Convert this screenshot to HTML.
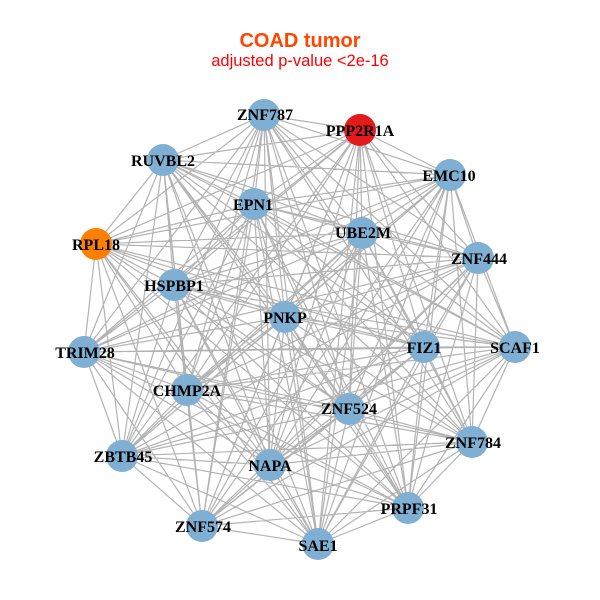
<!DOCTYPE html>
<html><head><meta charset="utf-8"><style>
html,body{margin:0;padding:0;background:#fff}
svg{display:block}
.l{font:bold 16px "Liberation Serif",serif;fill:#000;text-anchor:middle}
</style></head><body>
<svg width="600" height="600" viewBox="0 0 600 600" xmlns="http://www.w3.org/2000/svg">
<rect width="600" height="600" fill="#fff"/>
<path fill="none" stroke="#b3b3b3" stroke-width="1.2" d="
M264 115L163 160M264 115L254 204M264 115L96 244M264 115L174 285M264 115L360 130M264 115L450 175M264 115L362 233M264 115L478 258M264 115L285 317M264 115L84 352M264 115L187 390M264 115L122 456M264 115L270 465M264 115L202 526M264 115L424 347M264 115L515 347M264 115L349 409M264 115L472 442M264 115L408 508M264 115L318 544
M163 160L254 204M163 160L96 244M163 160L174 285M163 160L360 130M163 160L450 175M163 160L362 233M163 160L478 258M163 160L285 317M163 160L84 352M163 160L187 390M163 160L122 456M163 160L270 465M163 160L202 526M163 160L424 347M163 160L515 347M163 160L349 409M163 160L472 442M163 160L408 508M163 160L318 544
M254 204L96 244M254 204L174 285M254 204L360 130M254 204L450 175M254 204L362 233M254 204L478 258M254 204L285 317M254 204L84 352M254 204L187 390M254 204L122 456M254 204L270 465M254 204L202 526M254 204L424 347M254 204L515 347M254 204L349 409M254 204L472 442M254 204L408 508M254 204L318 544
M96 244L174 285M96 244L360 130M96 244L450 175M96 244L362 233M96 244L478 258M96 244L285 317M96 244L84 352M96 244L187 390M96 244L122 456M96 244L270 465M96 244L202 526M96 244L424 347M96 244L515 347M96 244L349 409M96 244L472 442M96 244L408 508M96 244L318 544
M174 285L360 130M174 285L450 175M174 285L362 233M174 285L478 258M174 285L285 317M174 285L84 352M174 285L187 390M174 285L122 456M174 285L270 465M174 285L202 526M174 285L424 347M174 285L515 347M174 285L349 409M174 285L472 442M174 285L408 508M174 285L318 544
M360 130L450 175M360 130L362 233M360 130L478 258M360 130L285 317M360 130L84 352M360 130L187 390M360 130L122 456M360 130L270 465M360 130L202 526M360 130L424 347M360 130L515 347M360 130L349 409M360 130L472 442M360 130L408 508M360 130L318 544
M450 175L362 233M450 175L478 258M450 175L285 317M450 175L84 352M450 175L187 390M450 175L122 456M450 175L270 465M450 175L202 526M450 175L424 347M450 175L515 347M450 175L349 409M450 175L472 442M450 175L408 508M450 175L318 544
M362 233L478 258M362 233L285 317M362 233L84 352M362 233L187 390M362 233L122 456M362 233L270 465M362 233L202 526M362 233L424 347M362 233L515 347M362 233L349 409M362 233L472 442M362 233L408 508M362 233L318 544
M478 258L285 317M478 258L84 352M478 258L187 390M478 258L122 456M478 258L270 465M478 258L202 526M478 258L424 347M478 258L515 347M478 258L349 409M478 258L472 442M478 258L408 508M478 258L318 544
M285 317L84 352M285 317L187 390M285 317L122 456M285 317L270 465M285 317L202 526M285 317L424 347M285 317L515 347M285 317L349 409M285 317L472 442M285 317L408 508M285 317L318 544
M84 352L187 390M84 352L122 456M84 352L270 465M84 352L202 526M84 352L424 347M84 352L515 347M84 352L349 409M84 352L472 442M84 352L408 508M84 352L318 544
M187 390L122 456M187 390L270 465M187 390L202 526M187 390L424 347M187 390L515 347M187 390L349 409M187 390L472 442M187 390L408 508M187 390L318 544
M122 456L270 465M122 456L202 526M122 456L424 347M122 456L515 347M122 456L349 409M122 456L472 442M122 456L408 508M122 456L318 544
M270 465L202 526M270 465L424 347M270 465L515 347M270 465L349 409M270 465L472 442M270 465L408 508M270 465L318 544
M202 526L424 347M202 526L515 347M202 526L349 409M202 526L472 442M202 526L408 508M202 526L318 544
M424 347L515 347M424 347L349 409M424 347L472 442M424 347L408 508M424 347L318 544
M515 347L349 409M515 347L472 442M515 347L408 508M515 347L318 544
M349 409L472 442M349 409L408 508M349 409L318 544
M472 442L408 508M472 442L318 544
M408 508L318 544"/>
<g fill="#7fafd2">
<circle cx="264" cy="115" r="16"/><circle cx="163" cy="160" r="16"/><circle cx="254" cy="204" r="16"/><circle cx="174" cy="285" r="16"/><circle cx="450" cy="175" r="16"/><circle cx="362" cy="233" r="16"/><circle cx="478" cy="258" r="16"/><circle cx="285" cy="317" r="16"/><circle cx="84" cy="352" r="16"/><circle cx="187" cy="390" r="16"/><circle cx="122" cy="456" r="16"/><circle cx="270" cy="465" r="16"/><circle cx="202" cy="526" r="16"/><circle cx="424" cy="347" r="16"/><circle cx="515" cy="347" r="16"/><circle cx="349" cy="409" r="16"/><circle cx="472" cy="442" r="16"/><circle cx="408" cy="508" r="16"/><circle cx="318" cy="544" r="16"/>
</g>
<circle cx="96" cy="244" r="16" fill="#ff7f00"/>
<circle cx="360" cy="130" r="16" fill="#e41a1c"/>
<text class="l" x="265" y="120">ZNF787</text>
<text class="l" x="163" y="166">RUVBL2</text>
<text class="l" x="253" y="210">EPN1</text>
<text class="l" x="96" y="250">RPL18</text>
<text class="l" x="174" y="291">HSPBP1</text>
<text class="l" x="360" y="136">PPP2R1A</text>
<text class="l" x="449" y="181">EMC10</text>
<text class="l" x="363" y="238">UBE2M</text>
<text class="l" x="479" y="264">ZNF444</text>
<text class="l" x="285" y="323">PNKP</text>
<text class="l" x="85" y="358">TRIM28</text>
<text class="l" x="187" y="396">CHMP2A</text>
<text class="l" x="123" y="462">ZBTB45</text>
<text class="l" x="270" y="471">NAPA</text>
<text class="l" x="203" y="532">ZNF574</text>
<text class="l" x="424" y="353">FIZ1</text>
<text class="l" x="515" y="353">SCAF1</text>
<text class="l" x="349" y="414">ZNF524</text>
<text class="l" x="473" y="448">ZNF784</text>
<text class="l" x="409" y="514">PRPF31</text>
<text class="l" x="318" y="551">SAE1</text>
<text x="300" y="47" text-anchor="middle" font-family="Liberation Sans,sans-serif" font-weight="bold" font-size="20" fill="#ff4500">COAD tumor</text>
<text x="300" y="66" text-anchor="middle" font-family="Liberation Sans,sans-serif" font-size="16.5" fill="#ff0000">adjusted p-value &lt;2e-16</text>
</svg>
</body></html>
